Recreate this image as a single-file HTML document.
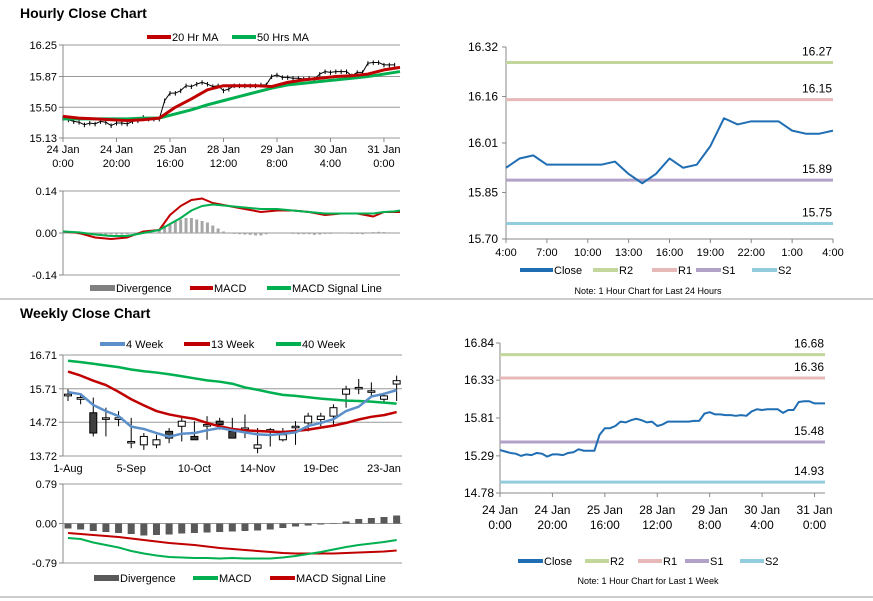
<!DOCTYPE html>
<html><head><meta charset="utf-8">
<style>
html,body{margin:0;padding:0;background:#fff;}
svg{display:block;font-family:"Liberation Sans",Arial,sans-serif;}
</style></head>
<body>
<svg id="c" width="873" height="601" viewBox="0 0 873 601" xmlns="http://www.w3.org/2000/svg">
<text x="20" y="18" font-size="14" font-weight="bold">Hourly Close Chart</text>
<text x="20" y="318" font-size="14" font-weight="bold">Weekly Close Chart</text>
<line x1="0" y1="299" x2="873" y2="299" stroke="#999"/>
<line x1="0" y1="597" x2="873" y2="597" stroke="#999"/>
</svg>
<script>
// ---------- DATA ----------
const weekHours = [0,2,4,6,8,10,12,14,16,18,20,22,24,26,28,30,32,34,36,38,40,42,44,46,48,50,52,54,56,58,60,62,64,66,68,70,72,74,76,78,80,82,84,86,88,90,92,94,96,98,100,102,104,106,108,110,112,114,116,118,120,122,124];
const weekClose = [15.37,15.35,15.33,15.32,15.29,15.31,15.30,15.33,15.32,15.28,15.31,15.31,15.30,15.33,15.34,15.38,15.36,15.36,15.36,15.58,15.67,15.67,15.70,15.76,15.75,15.78,15.80,15.78,15.75,15.76,15.70,15.72,15.76,15.76,15.76,15.76,15.76,15.77,15.77,15.87,15.89,15.86,15.86,15.85,15.85,15.84,15.85,15.84,15.90,15.93,15.92,15.93,15.93,15.93,15.88,15.92,15.92,16.03,16.04,16.04,16.01,16.01,16.01];
const hrTickLabels1 = ["24 Jan","24 Jan","25 Jan","28 Jan","29 Jan","30 Jan","31 Jan"];
const hrTickLabels2 = ["0:00","20:00","16:00","12:00","8:00","4:00","0:00"];
const hrTickHours = [0,20,40,60,80,100,120];
const ma20Hours = [0,6,12,18,24,30,36,42,48,54,60,66,72,78,84,90,96,102,108,114,120,126];
const ma20 = [15.39,15.37,15.36,15.35,15.34,15.35,15.37,15.50,15.60,15.71,15.76,15.76,15.76,15.75,15.80,15.83,15.85,15.87,15.88,15.90,15.95,15.98];
const ma50 = [15.36,15.36,15.36,15.36,15.36,15.37,15.37,15.42,15.47,15.53,15.58,15.63,15.68,15.73,15.77,15.79,15.81,15.83,15.85,15.87,15.90,15.93];
const macdHours = [0,6,12,18,24,30,36,40,44,48,52,56,62,68,74,80,86,92,98,104,110,116,120,124,126];
const hMacd = [0.005,0,-0.015,-0.02,-0.015,0.005,0.01,0.06,0.09,0.11,0.115,0.10,0.09,0.08,0.07,0.075,0.075,0.07,0.06,0.065,0.065,0.055,0.07,0.07,0.07];
const hSignal = [0.005,0.002,-0.005,-0.01,-0.01,0,0.01,0.03,0.05,0.075,0.09,0.095,0.09,0.085,0.08,0.08,0.075,0.07,0.065,0.065,0.065,0.065,0.07,0.072,0.075];
const hDiv = [0,0,0,-0.005,-0.005,-0.005,-0.005,-0.005,-0.005,-0.005,-0.005,-0.005,-0.005,0,0,0,0,0,0.01,0.025,0.03,0.04,0.045,0.05,0.05,0.045,0.04,0.035,0.025,0.015,0.005,-0.002,-0.003,-0.004,-0.005,-0.006,-0.008,-0.008,-0.004,-0.002,-0.002,-0.002,-0.002,-0.003,-0.004,-0.004,-0.004,-0.006,-0.005,-0.003,-0.003,-0.002,-0.002,-0.002,-0.003,-0.003,-0.004,0.002,0.003,0.004,0.003,0.002,0.002];
const dayLabels = ["4:00","7:00","10:00","13:00","16:00","19:00","22:00","1:00","4:00"];
const dayClose = [15.93,15.96,15.97,15.94,15.94,15.94,15.94,15.94,15.95,15.91,15.88,15.91,15.96,15.93,15.94,16.00,16.09,16.07,16.08,16.08,16.08,16.05,16.04,16.04,16.05];
const dayLevels = [16.27,16.15,15.89,15.75];
const weekLevels = [16.68,16.36,15.48,14.93];
const levelNames = ["R2","R1","S1","S2"];
const levelColors = ["#c3d69b","#e6b9b8","#b3a2c7","#93cddd"];
const wOpen  = [15.50,15.40,15.00,14.85,14.80,14.15,14.05,14.05,14.45,14.60,14.30,14.65,14.75,14.45,14.55,13.95,14.50,14.20,14.60,14.70,14.80,14.90,15.55,15.75,15.65,15.40,15.85];
const wClose = [15.55,15.45,14.40,14.85,14.85,14.15,14.30,14.20,14.25,14.75,14.20,14.65,14.65,14.25,14.55,14.05,14.50,14.35,14.60,14.90,14.90,15.15,15.70,15.75,15.65,15.50,15.95];
const wHigh  = [15.70,15.55,15.45,15.15,15.05,14.85,14.40,14.35,14.55,14.90,14.75,14.90,14.85,14.85,14.95,14.55,14.55,14.55,14.75,15.00,15.00,15.25,15.80,16.00,15.90,15.60,16.10];
const wLow   = [15.35,15.25,14.30,14.30,14.60,13.95,13.90,13.95,14.10,14.15,14.20,14.20,14.50,14.25,14.25,13.80,14.00,14.15,14.05,14.45,14.60,14.60,15.15,15.55,15.50,15.30,15.35];
const w4  = [15.61,15.55,15.23,15.05,14.90,14.59,14.52,14.40,14.29,14.38,14.40,14.48,14.55,14.48,14.42,14.36,14.34,14.38,14.42,14.61,14.70,14.81,15.05,15.18,15.48,15.56,15.67];
const w13 = [16.22,16.10,15.95,15.82,15.62,15.40,15.22,15.05,14.95,14.88,14.82,14.70,14.60,14.52,14.48,14.46,14.44,14.43,14.46,14.50,14.56,14.62,14.70,14.80,14.88,14.93,15.02];
const w40 = [16.54,16.50,16.45,16.40,16.35,16.28,16.23,16.19,16.14,16.08,16.02,15.96,15.92,15.86,15.75,15.68,15.60,15.53,15.50,15.46,15.42,15.39,15.36,15.35,15.33,15.30,15.27];
const wDiv = [-0.10,-0.12,-0.15,-0.17,-0.19,-0.21,-0.24,-0.23,-0.22,-0.20,-0.19,-0.18,-0.17,-0.16,-0.15,-0.14,-0.12,-0.09,-0.06,-0.04,-0.02,0.01,0.04,0.09,0.11,0.13,0.16];
const wMacd = [-0.29,-0.31,-0.38,-0.43,-0.48,-0.55,-0.60,-0.64,-0.67,-0.68,-0.69,-0.69,-0.70,-0.69,-0.70,-0.70,-0.70,-0.68,-0.65,-0.61,-0.57,-0.52,-0.47,-0.43,-0.40,-0.37,-0.33];
const wSignal = [-0.19,-0.21,-0.23,-0.25,-0.27,-0.30,-0.33,-0.36,-0.39,-0.41,-0.43,-0.46,-0.49,-0.51,-0.53,-0.55,-0.57,-0.59,-0.60,-0.60,-0.60,-0.60,-0.59,-0.58,-0.57,-0.56,-0.54];
const wTickLabels = ["1-Aug","5-Sep","10-Oct","14-Nov","19-Dec","23-Jan"];
const wTickIdx = [0,5,10,15,20,25];

// ---------- HELPERS ----------
const svg = document.getElementById('c');
const NS = 'http://www.w3.org/2000/svg';
function mk(tag, attrs, parent){const e=document.createElementNS(NS,tag);for(const k in attrs)e.setAttribute(k,attrs[k]);(parent||svg).appendChild(e);return e;}
function lin(d0,d1,r0,r1){return v=>r0+(v-d0)*(r1-r0)/(d1-d0);}
function txt(x,y,s,anchor,size,name){const t=mk('text',{x:x,y:y,'font-size':size||11,'text-anchor':anchor||'start',fill:'#000'});t.textContent=s;


return t;}
function poly(xs,ys,color,w,name){const p=mk('polyline',{points:xs.map((x,i)=>x+','+ys[i]).join(' '),fill:'none',stroke:color,'stroke-width':w,'stroke-linejoin':'round'});


return p;}
function hline(x1,x2,y,color,w,name){const l=mk('line',{x1:x1,x2:x2,y1:y,y2:y,stroke:color,'stroke-width':w});


return l;}
function vline(x,y1,y2,color,w,name){const l=mk('line',{x1:x,x2:x,y1:y1,y2:y2,stroke:color,'stroke-width':w});


return l;}
function legendLine(x,y,len,color,label,name){const l=hline(x,x+len,y,color,4,name+'-swatch');txt(x+len+1,y+4,label,'start',11,name+'-label');}
function yAxisGrid(x1,x2,ticks,ys,name){ticks.forEach((t,i)=>{const y=ys(t);hline(x1,x2,y,'#999',1,name+'-grid');hline(x1-4,x1,y,'#888',1,name+'-tick');txt(x1-6,y+4,t.toFixed(2),'end',11,name+'-tick-label');});vline(x1,ys(ticks[0]),ys(ticks[ticks.length-1]),'#888',1,name+'-axis');}

// ---------- HOURLY PRICE ----------
const hx = lin(0,126,63,400), hy = lin(15.13,16.25,138,45);
yAxisGrid(63,400,[16.25,15.87,15.50,15.13],hy,'hourly-price-y');
hrTickHours.forEach((h,i)=>{vline(hx(h),138,142,'#888',1,'hourly-x-tick');txt(hx(h),153,hrTickLabels1[i],'middle',11,'hourly-x-label');txt(hx(h),167,hrTickLabels2[i],'middle',11,'hourly-x-label');});
weekHours.forEach((h,i)=>{
  const v=weekClose[i];
  vline(hx(h),hy(v+0.025),hy(v-0.03),'#000',1,'hourly-bar');
});
poly(weekHours.map(hx),weekClose.map(hy),'#000',1,'hourly-close-trace');
poly(ma20Hours.map(hx),ma50.map(hy),'#00b050',3,'ma50-line');
poly(ma20Hours.map(hx),ma20.map(hy),'#c00000',3,'ma20-line');
legendLine(147,37,24,'#c00000','20 Hr MA','legend-20hr-ma');
legendLine(232,37,24,'#00b050','50 Hrs MA','legend-50hr-ma');

// ---------- HOURLY MACD ----------
const my = lin(-0.14,0.14,275,191);
yAxisGrid(63,400,[0.14,0.00,-0.14],my,'hourly-macd-y');
weekHours.forEach((h,i)=>{const v=hDiv[i];if(!v)return;const r=mk('rect',{x:hx(h)-1.5,y:Math.min(my(v),my(0)),width:3,height:Math.abs(my(v)-my(0)),fill:'#a6a6a6'});

});
poly(macdHours.map(hx),hMacd.map(my),'#c00000',2,'hourly-macd-line');
poly(macdHours.map(hx),hSignal.map(my),'#00b050',2,'hourly-signal-line');
{const r=mk('rect',{x:90,y:285,width:25,height:6,fill:'#808080'});


txt(116,292,'Divergence','start',11,'legend-divergence-label');}
legendLine(190,288,23,'#c00000','MACD','legend-hourly-macd');
legendLine(267,288,24,'#00b050','MACD Signal Line','legend-hourly-signal');

// ---------- 24H PIVOT ----------
const dx = lin(0,24,506,833), dy = lin(15.70,16.32,239,47);
vline(506,47,239,'#888',1,'day-y-axis');hline(506,833,239,'#888',1,'day-x-axis');
[16.32,16.16,16.01,15.85,15.70].forEach(t=>{hline(502,506,dy(t),'#888',1,'day-y-tick');txt(498,dy(t)+4,t.toFixed(2),'end',12,'day-y-label');});
dayLabels.forEach((s,i)=>{const x=dx(i*3);vline(x,239,243,'#888',1,'day-x-tick');txt(x,256,s,'middle',11,'day-x-label');});
dayLevels.forEach((v,i)=>{hline(506,833,dy(v),levelColors[i],3,'day-level-'+levelNames[i]);txt(832,dy(v)-7,v.toFixed(2),'end',12,'day-level-label');});
poly(dayClose.map((v,i)=>dx(i)),dayClose.map(dy),'#1f6db3',2,'day-close-line');
legendLine(520,270,33,'#1f6db3','Close','legend-day-close');
[[593,'R2'],[652,'R1'],[696,'S1'],[752,'S2']].forEach((p,i)=>legendLine(p[0],270,25,levelColors[i],p[1],'legend-day-'+p[1]));
txt(648,294,'Note: 1 Hour Chart for Last 24 Hours','middle',9,'day-note');

// ---------- WEEK PIVOT ----------
const ex = lin(0,124,500,825), ey = lin(14.78,16.84,493,343);
vline(500,343,493,'#888',1,'week-y-axis');hline(500,825,493,'#888',1,'week-x-axis');
[16.84,16.33,15.81,15.29,14.78].forEach(t=>{hline(496,500,ey(t),'#888',1,'week-y-tick');txt(494,ey(t)+4,t.toFixed(2),'end',12,'week-y-label');});
hrTickHours.forEach((h,i)=>{const x=ex(h);vline(x,493,497,'#888',1,'week-x-tick');txt(x,514,hrTickLabels1[i],'middle',12,'week-x-label');txt(x,529,hrTickLabels2[i],'middle',12,'week-x-label');});
weekLevels.forEach((v,i)=>{hline(500,825,ey(v),levelColors[i],3,'week-level-'+levelNames[i]);txt(824,ey(v)-7,v.toFixed(2),'end',12,'week-level-label');});
poly(weekHours.map(ex),weekClose.map(ey),'#1f6db3',2,'week-close-line');
legendLine(518,561,25,'#1f6db3','Close','legend-week-close');
[[585,'R2'],[638,'R1'],[685,'S1'],[740,'S2']].forEach((p,i)=>legendLine(p[0],561,24,levelColors[i],p[1],'legend-week-'+p[1]));
txt(648,584,'Note: 1 Hour Chart for Last 1 Week','middle',9,'week-note');

// ---------- WEEKLY CANDLES ----------
const wx = lin(0,25,68,384), wy = lin(13.72,16.71,456,355);
yAxisGrid(63,402,[16.71,15.71,14.72,13.72],wy,'weekly-price-y');
wTickIdx.forEach((k,i)=>{txt(wx(k),472,wTickLabels[i],'middle',11,'weekly-x-label');});
wOpen.forEach((o,i)=>{
  const x=wx(i), c=wClose[i];
  vline(x,wy(wHigh[i]),wy(wLow[i]),'#000',1,'weekly-wick');
  const top=Math.min(wy(o),wy(c)),h=Math.max(1.5,Math.abs(wy(o)-wy(c)));
  const r=mk('rect',{x:x-3.5,y:top,width:7,height:h,fill:c>=o?'#fff':'#404040',stroke:'#000','stroke-width':1});
  
  
});
const widx = w4.map((v,i)=>wx(i));
poly(widx,w40.map(wy),'#00b050',2.5,'ma40-week-line');
poly(widx,w13.map(wy),'#c00000',2.5,'ma13-week-line');
poly(widx,w4.map(wy),'#5b8fc9',2.5,'ma4-week-line');
legendLine(100,344,25,'#5b8fc9','4 Week','legend-4week');
legendLine(184,344,26,'#c00000','13 Week','legend-13week');
legendLine(276,344,25,'#00b050','40 Week','legend-40week');

// ---------- WEEKLY MACD ----------
const wm = lin(-0.79,0.79,563,484);
yAxisGrid(63,402,[0.79,0.00,-0.79],wm,'weekly-macd-y');
wDiv.forEach((v,i)=>{const r=mk('rect',{x:wx(i)-3.5,y:Math.min(wm(v),wm(0)),width:7,height:Math.abs(wm(v)-wm(0)),fill:'#595959'});

});
poly(widx,wSignal.map(wm),'#c00000',2,'weekly-signal-line');
poly(widx,wMacd.map(wm),'#00b050',2,'weekly-macd-line');
{const r=mk('rect',{x:94,y:575,width:25,height:6,fill:'#595959'});


txt(120,582,'Divergence','start',11,'legend-weekly-divergence-label');}
legendLine(193,578,25,'#00b050','MACD','legend-weekly-macd');
legendLine(270,578,25,'#c00000','MACD Signal Line','legend-weekly-signal');
</script>
</body></html>
